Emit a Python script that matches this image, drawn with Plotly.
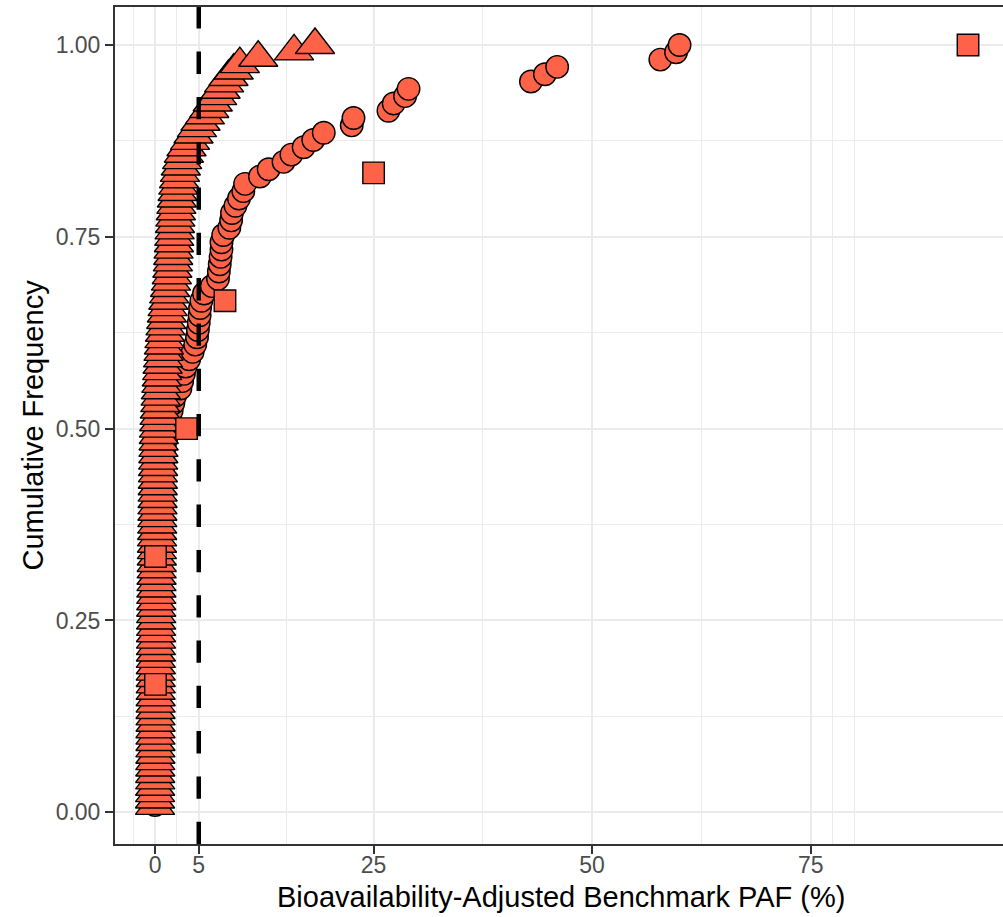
import plotly.graph_objects as go

# ---------------- data ----------------
# Series 1 (circles): cumulative frequency = rank / 105
circle_x = [
    0.00, 0.00, 0.01, 0.02, 0.03, 0.04, 0.05, 0.06, 0.07, 0.08, 0.09,
    0.10, 0.11, 0.12, 0.13, 0.14, 0.16, 0.18, 0.20, 0.22, 0.24,
    0.26, 0.28, 0.30, 0.32, 0.34, 0.36, 0.38, 0.40, 0.42, 0.44,
    0.46, 0.48, 0.50, 0.52, 0.55, 0.58, 0.61, 0.64, 0.67, 0.70,
    0.73, 0.76, 0.79, 0.82, 0.85, 0.90, 0.95, 1.00, 1.10, 1.25,
    1.40, 1.60, 1.75, 1.90, 2.10, 2.30, 2.90, 3.10, 3.30, 3.50,
    3.90, 4.30, 4.60, 4.80, 4.90, 5.00, 5.10, 5.15, 5.30, 5.60,
    6.50, 7.20, 7.30, 7.40, 7.50, 7.60, 7.60, 7.80, 8.50, 8.70,
    8.80, 9.20, 9.60, 10.10, 10.30, 12.00, 13.00, 14.70, 15.60, 17.00,
    18.10, 19.30, 22.50, 22.70, 26.70, 27.30, 28.60, 29.00, 43.00, 44.60,
    46.00, 57.80, 59.60, 60.00,
]
circle_y = [i / 105 for i in range(1, 106)]

# Series 2 (triangles): cumulative frequency = rank / 120
triangle_x = [
    0.00, 0.00, 0.01, 0.01, 0.02, 0.02, 0.03, 0.03, 0.04, 0.04, 0.05, 0.05,
    0.05, 0.06, 0.06, 0.06, 0.07, 0.07, 0.07, 0.08, 0.08, 0.08, 0.09, 0.09,
    0.10, 0.10, 0.11, 0.11, 0.12, 0.12, 0.13, 0.13, 0.14, 0.14, 0.15, 0.16,
    0.17, 0.18, 0.19, 0.20, 0.21, 0.22, 0.23, 0.24, 0.25, 0.26, 0.27, 0.28,
    0.29, 0.30, 0.31, 0.32, 0.33, 0.35, 0.36, 0.38, 0.39, 0.41, 0.43, 0.45,
    0.48, 0.52, 0.56, 0.60, 0.64, 0.68, 0.72, 0.77, 0.82, 0.87, 0.92, 0.97,
    1.02, 1.08, 1.14, 1.20, 1.28, 1.36, 1.44, 1.52, 1.62, 1.72, 1.82, 1.92,
    1.98, 2.04, 2.08, 2.12, 2.16, 2.20, 2.24, 2.28, 2.32, 2.38, 2.44, 2.50,
    2.58, 2.66, 2.75, 2.85, 2.95, 3.10, 3.30, 3.60, 4.00, 4.40, 4.80, 5.20,
    5.70, 6.20, 6.60, 7.10, 7.50, 7.90, 8.40, 9.00, 9.70, 11.80, 15.90, 18.30,
]
triangle_y = [i / 120 for i in range(1, 121)]

# Series 3 (squares): cumulative frequency = rank / 6
square_x = [0.05, 0.05, 3.6, 8.0, 25.0, 93.0]
square_y = [1 / 6, 2 / 6, 3 / 6, 4 / 6, 5 / 6, 6 / 6]

threshold = 5
x_ticks = [0, 5, 25, 50, 75]
x_minor = [-2.5, 2.5, 15, 37.5, 62.5, 77.5, 80]
y_ticks = [0, 0.25, 0.5, 0.75, 1.0]
y_tick_text = ["0.00", "0.25", "0.50", "0.75", "1.00"]
y_minor = [0.125, 0.375, 0.625, 0.875]

x_title = "Bioavailability-Adjusted Benchmark PAF (%)"
y_title = "Cumulative Frequency"

# ---------------- figure ----------------
FILL = "#FF6347"
FONT = "Liberation Sans, Arial, sans-serif"

fig = go.Figure()
fig.add_trace(go.Scatter(
    x=circle_x, y=circle_y, mode="markers",
    marker=dict(symbol="circle", size=22.5, color=FILL,
                line=dict(color="black", width=1.4)),
    showlegend=False, hoverinfo="x+y"))
fig.add_trace(go.Scatter(
    x=triangle_x, y=triangle_y, mode="markers",
    marker=dict(symbol="triangle-up", size=34, color=FILL,
                line=dict(color="black", width=1.4)),
    showlegend=False, hoverinfo="x+y"))
fig.add_trace(go.Scatter(
    x=square_x, y=square_y, mode="markers",
    marker=dict(symbol="square", size=21.5, color=FILL,
                line=dict(color="black", width=1.4)),
    showlegend=False, hoverinfo="x+y"))

fig.add_shape(type="line", xref="x", yref="paper",
              x0=threshold, x1=threshold, y0=0, y1=1,
              line=dict(color="black", width=4.5, dash="22.3px,23px"),
              layer="above")

fig.update_layout(
    width=1003, height=917,
    margin=dict(l=115, r=0, t=7, b=73, pad=0),
    paper_bgcolor="white", plot_bgcolor="white",
    font=dict(family=FONT, color="black"),
    xaxis=dict(
        range=[-4.58, 97.0],
        tickmode="array", tickvals=x_ticks,
        ticktext=[str(v) for v in x_ticks],
        ticks="outside", ticklen=8, tickwidth=2, tickcolor="#333333",
        tickfont=dict(size=23, color="#4D4D4D", family=FONT),
        ticklabelstandoff=-9,
        showgrid=True, gridcolor="#EBEBEB", gridwidth=2,
        minor=dict(tickmode="array", tickvals=x_minor, showgrid=True,
                   gridcolor="#EBEBEB", gridwidth=1, ticks=""),
        showline=True, linecolor="#333333", linewidth=2, mirror=True,
        zeroline=False,
    ),
    yaxis=dict(
        range=[-0.0413, 1.0495],
        tickmode="array", tickvals=y_ticks, ticktext=y_tick_text,
        ticks="outside", ticklen=8, tickwidth=2, tickcolor="#333333",
        tickfont=dict(size=23, color="#4D4D4D", family=FONT),
        showgrid=True, gridcolor="#EBEBEB", gridwidth=2,
        minor=dict(tickmode="array", tickvals=y_minor, showgrid=True,
                   gridcolor="#EBEBEB", gridwidth=1, ticks=""),
        showline=True, linecolor="#333333", linewidth=2, mirror=False,
        zeroline=False,
    ),
    annotations=[
        dict(text=x_title, xref="paper", yref="paper", x=0.5023, y=0,
             xanchor="center", yanchor="middle", yshift=-53,
             showarrow=False, font=dict(size=29, color="black", family=FONT)),
        dict(text=y_title, xref="paper", yref="paper", x=0, y=0.5,
             xanchor="center", yanchor="middle", xshift=-83, textangle=-90,
             showarrow=False, font=dict(size=29, color="black", family=FONT)),
    ],
)

fig.write_html("out.html")
